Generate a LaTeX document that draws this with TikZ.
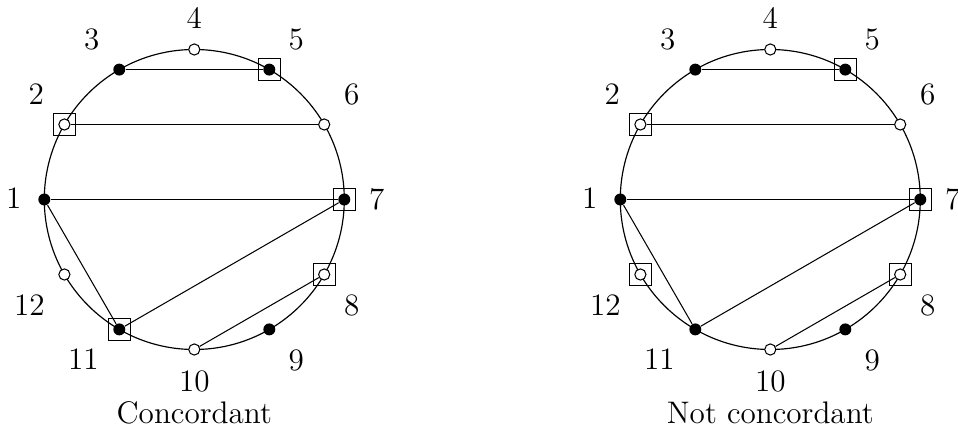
\documentclass[tikz,border=0pt]{standalone}
\usetikzlibrary{calc}
\begin{document}
\begin{tikzpicture}[x=0.385pt,y=-0.385pt,
  every node/.style={font=\fontsize{12}{14}\selectfont},
  filled/.style={circle,fill=black,inner sep=0pt,minimum size=4.6pt},
  hollow/.style={circle,draw,fill=white,inner sep=0pt,minimum size=4.3pt,line width=0.4pt},
  marked/.style={rectangle,draw,inner sep=0pt,minimum size=8.5pt,line width=0.4pt},
  chord/.style={line width=0.4pt},
  rim/.style={circle,draw,inner sep=0pt,minimum size=115.5pt,line width=0.45pt},
  numlabel/.style={inner sep=0pt}]
\useasboundingbox (0,0) rectangle (958,428);
\foreach \side/\ox/\sq/\cap in {L/0/{2,5,7,8,11}/Concordant, R/576/{2,5,7,8,12}/Not concordant}{
  \pgfmathsetmacro{\cx}{194.3+\ox}
  \pgfmathsetmacro{\cy}{199.5}
  \node[rim] (\side C) at (\cx,\cy) {};
  \foreach \k in {1,...,12}{
    \pgfmathsetmacro{\ang}{180-30*(\k-1)}
    \pgfmathtruncatemacro{\odd}{mod(\k,2)}
    \ifnum\odd=1
      \node[filled] (\side p\k) at ({\cx+150*cos(\ang)},{\cy-150*sin(\ang)}) {};
    \else
      \node[hollow] (\side p\k) at ({\cx+150*cos(\ang)},{\cy-150*sin(\ang)}) {};
    \fi
  }
  \draw[chord] (\side p3) -- (\side p5);
  \draw[chord] (\side p2) -- (\side p6);
  \draw[chord] (\side p1) -- (\side p7);
  \draw[chord] (\side p1) -- (\side p11);
  \draw[chord] (\side p11) -- (\side p7);
  \draw[chord] (\side p10) -- (\side p8);
  \foreach \m in \sq {
    \node[marked] (\side s\m) at (\side p\m) {};
  }
  \foreach \k/\dx/\dy in {1/-180.5/-1.5, 2/-158/-105.2, 3/-102.5/-159.8, 4/0/-181.5,
      5/102/-159.8, 6/157.5/-105.2, 7/182.5/-0.5, 8/157.5/105.5, 9/102/160.5,
      10/0/181.5, 11/-111/160, 12/-165/105.5}{
    \node[numlabel] (\side l\k) at (\cx+\dx,\cy+\dy) {\k};
  }
  \node[numlabel] (\side cap) at (\cx,412.5) {\cap};
}
\end{tikzpicture}
\end{document}
